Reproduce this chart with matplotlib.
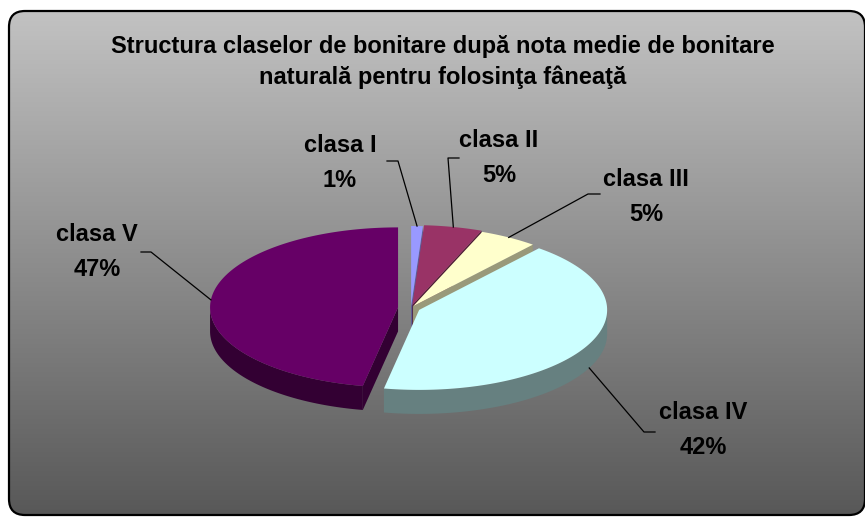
import numpy as np
import matplotlib
matplotlib.use('Agg')
import matplotlib.pyplot as plt
from matplotlib.patches import Polygon, FancyBboxPatch
from matplotlib.lines import Line2D

plt.rcParams['font.family'] = ['Liberation Sans', 'DejaVu Sans']

# date
clase = ['clasa I', 'clasa II', 'clasa III', 'clasa IV', 'clasa V']
procente = [1, 5, 5, 42, 47]
titlu = 'Structura claselor de bonitare după nota medie de bonitare\nnaturală pentru folosinţa fâneaţă'

culori_sus = ['#9999FF', '#993366', '#FFFFCC', '#CCFFFF', '#660066']
culori_lat = ['#5C5C99', '#4D1A33', '#99997A', '#668080', '#330033']
explode = [4, 6, 4, 9, 13]       # pixeli
# pozitii etichete (centru) si capatul liniei de legatura
et_pos = [(340, 163), (499, 158), (646, 197), (703, 430), (97, 252)]
et_cot = [((387, 161), (398, 161)), ((459, 158), (448, 158)), ((600, 194), (588, 194)),
          ((655, 432), (644, 432)), ((141, 252), (151, 252))]

W, H = 865, 517
fig = plt.figure(figsize=(W / 100, H / 100), dpi=100)
ax = fig.add_axes([0, 0, 1, 1])
ax.set_xlim(0, W)
ax.set_ylim(H, 0)
ax.axis('off')

# cadru cu gradient
cadru = FancyBboxPatch((9, 11), 856, 504, boxstyle='round,pad=0,rounding_size=16',
                       facecolor='none', edgecolor='black', lw=1.6, zorder=3)
ax.add_patch(cadru)
grad = np.linspace(0, 1, 256).reshape(-1, 1)
c0, c1 = np.array([194, 194, 194]) / 255, np.array([88, 88, 88]) / 255
img = c0 + (c1 - c0) * grad[..., None]
im = ax.imshow(np.repeat(img, 2, axis=1), extent=[9, 865, 515, 11], aspect='auto', zorder=0)
im.set_clip_path(cadru)

# pie 3D
cx, cy = 411, 308
a, b = 188, 80
depth = 24


def rim(x0, y0, t, dz=0):
    t = np.radians(t)
    return x0 + a * np.cos(t), y0 - b * np.sin(t) + dz


unghiuri = []
start = 90.0
for v in procente:
    end = start - v * 3.6
    unghiuri.append((end, start))
    start = end

laterale, sus = [], []
for i, (t0, t1) in enumerate(unghiuri):
    mid = (t0 + t1) / 2
    ox = cx + explode[i] * np.cos(np.radians(mid))
    oy = cy - explode[i] * np.sin(np.radians(mid)) * 0.5
    # fete radiale vizibile
    for t, n in ((t0, t0 - 90), (t1, t1 + 90)):
        if np.sin(np.radians(n)) < -1e-6:
            p = rim(ox, oy, t)
            poly = [(ox, oy), p, (p[0], p[1] + depth), (ox, oy + depth)]
            laterale.append((p[1], Polygon(poly, closed=True, fc=culori_lat[i], ec='none')))
    # perete exterior (partea din fata)
    lo, hi = max(t0, -180), min(t1, 0)
    if t0 < 0 and lo < hi:
        ts = np.linspace(lo, hi, 80)
    elif t1 > 180:
        ts = np.linspace(max(t0, 180), t1, 80)
        ts = ts[ts <= 360]
    else:
        ts = None
    if ts is not None and len(ts) > 1:
        top = [rim(ox, oy, t) for t in ts]
        bot = [rim(ox, oy, t, depth) for t in ts[::-1]]
        laterale.append((max(p[1] for p in top), Polygon(top + bot, closed=True, fc=culori_lat[i], ec='none')))
    ts = np.linspace(t0, t1, 120)
    sus.append(Polygon([(ox, oy)] + [rim(ox, oy, t) for t in ts], closed=True,
                       fc=culori_sus[i], ec='none'))

    # eticheta
    ax.text(et_pos[i][0], et_pos[i][1], '%s\n%d%%' % (clase[i], procente[i]), ha='center', va='center',
            fontsize=17, fontweight='bold', linespacing=1.65, zorder=6)
    px, py = rim(ox, oy, mid, depth if np.sin(np.radians(mid)) < 0 else 0)
    (ex, ey), (kx, ky) = et_cot[i]
    ax.add_line(Line2D([px, kx, ex], [py, ky, ey], color='black', lw=0.9, zorder=5))

for _, p in sorted(laterale, key=lambda s: s[0]):
    p.set_zorder(2)
    ax.add_patch(p)
for p in sus:
    p.set_zorder(2.5)
    ax.add_patch(p)

ax.text(443, 62, titlu, ha='center', va='center', fontsize=17, fontweight='bold',
        linespacing=1.45, zorder=6)

fig.savefig('out.png', dpi=100)
